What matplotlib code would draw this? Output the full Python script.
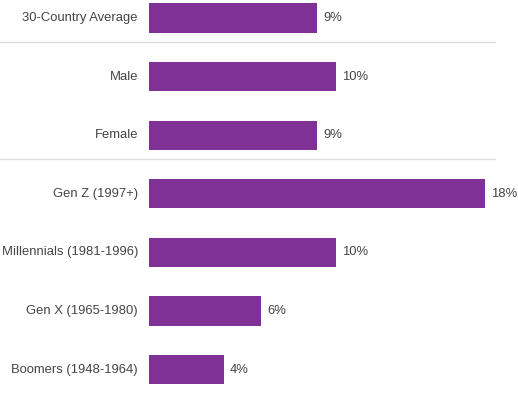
import matplotlib.pyplot as plt
from matplotlib.transforms import blended_transform_factory, offset_copy

categories = ["30-Country Average", "Male", "Female", "Gen Z (1997+)",
              "Millennials (1981-1996)", "Gen X (1965-1980)", "Boomers (1948-1964)"]
values = [9, 10, 9, 18, 10, 6, 4]
separators_after = [0, 2]

plt.rcParams['font.family'] = ['Liberation Sans', 'DejaVu Sans']

fig = plt.figure(figsize=(5.18, 3.93), dpi=100)
ax = fig.add_axes([149 / 518, 0, 346 / 518, 1])

bar_color = '#7f3196'
text_color = '#444444'
ys = list(range(len(categories)))
ax.barh(ys, values, height=0.495, color=bar_color)

ax.set_xlim(0, 346 / 18.67)
ax.set_ylim(393 / 58.6 - 18 / 58.6, -18 / 58.6)
ax.axis('off')

# category labels left of the axes
lab_tr = offset_copy(ax.transData, fig=fig, x=-11, y=0, units='dots')
for y, c in zip(ys, categories):
    ax.text(0, y, c, transform=lab_tr, ha='right', va='center',
            fontsize=9.4, color=text_color)

# value labels
val_tr = offset_copy(ax.transData, fig=fig, x=6, y=0, units='dots')
for y, v in zip(ys, values):
    ax.text(v, y, f"{v}%", transform=val_tr, ha='left', va='center',
            fontsize=9.4, color=text_color)

# group separators spanning to the left edge of the figure
sep_tr = blended_transform_factory(fig.transFigure, ax.transData)
for i in separators_after:
    ax.plot([0, 495 / 518], [i + 0.41, i + 0.41], transform=sep_tr,
            color='#dddddd', lw=1, clip_on=False)

fig.savefig('out.png', dpi=100)
